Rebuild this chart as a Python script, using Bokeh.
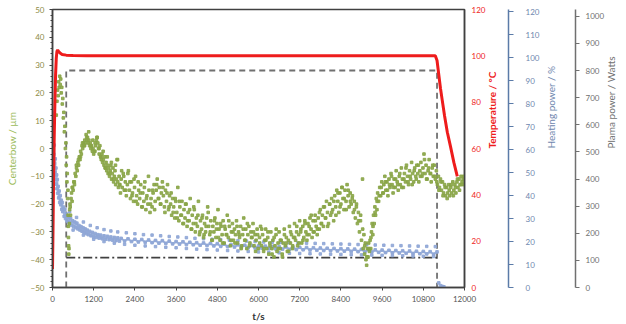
import math
from bokeh.plotting import figure
from bokeh.models import Range1d, LinearAxis, FixedTicker
from bokeh.embed import file_html
from bokeh.resources import INLINE

# ---------------- data ----------------
x_ticks = [0, 1200, 2400, 3600, 4800, 6000, 7200, 8400, 9600, 10800, 12000]
cb_ticks = [-50, -40, -30, -20, -10, 0, 10, 20, 30, 40, 50]
temp_ticks = [0, 20, 40, 60, 80, 100, 120]
heat_ticks = [0, 10, 20, 30, 40, 50, 60, 70, 80, 90, 100, 110, 120]
plasma_ticks = [0, 100, 200, 300, 400, 500, 600, 700, 800, 900, 1000]

# Centerbow (um), left axis
cb_t = [110, 130, 150, 165, 180, 195, 210, 225, 240, 255, 270, 285, 300, 315, 330, 345, 360, 375, 390, 400,
        410, 420, 430, 440, 450, 455, 460, 465, 470, 475, 480,
        490, 500, 510, 525, 540, 555, 570, 585, 600, 620, 640, 660, 680, 700, 720, 740, 760, 780, 800,
        820, 840, 860, 880, 900, 920, 940, 960, 980, 1000, 1020, 1040, 1060, 1080, 1100, 1120,
        1140, 1160, 1180, 1200, 1220, 1240, 1260, 1280, 1300, 1320, 1340, 1360, 1380, 1400, 1420, 1440,
        1460, 1480, 1500, 1520, 1540, 1560, 1580, 1600, 1620, 1640, 1660, 1680, 1700, 1720, 1740, 1760,
        1780, 1800, 1820, 1840, 1860, 1880, 1900, 1920, 1940, 1960, 1980, 2000, 2030, 2060, 2090, 2120,
        2150, 2180, 2210, 2240, 2270, 2300, 2330, 2360, 2390, 2420, 2450, 2480, 2510, 2540, 2570, 2600,
        2630, 2660, 2690, 2720, 2750, 2780, 2810, 2840, 2870, 2900,
        2930, 2960, 2990, 3020, 3050, 3080, 3110, 3140, 3170, 3200, 3230, 3260, 3290, 3320, 3350, 3380,
        3410, 3440, 3470, 3500, 3530, 3560, 3590, 3620, 3650, 3680, 3710, 3740, 3770, 3800, 3830, 3860,
        3890, 3920, 3950, 3980, 4010, 4040, 4070, 4100, 4130, 4160, 4190, 4220, 4250, 4280, 4310, 4340,
        4370, 4400, 4430, 4460, 4490, 4520, 4550, 4580, 4610, 4640, 4670, 4700, 4730, 4760, 4790, 4820,
        4850, 4880, 4910, 4940, 4970, 5000, 5030, 5060, 5090, 5120, 5150, 5180, 5210, 5240, 5270, 5300,
        5330, 5360, 5390, 5420, 5450, 5480, 5510, 5540, 5570, 5600, 5630, 5660, 5690, 5720, 5750, 5780,
        5810, 5840, 5870, 5900, 5930, 5960, 5990,
        6030, 6060, 6090, 6120, 6150, 6180, 6210, 6240, 6270, 6300, 6330, 6360, 6390, 6420, 6450, 6480,
        6510, 6540, 6570, 6600, 6630, 6660, 6690, 6720, 6750, 6780, 6810, 6840, 6870, 6900, 6930, 6960,
        6990, 7020, 7050, 7080, 7110, 7140, 7170, 7200,
        7230, 7260, 7290, 7320, 7350, 7380, 7410, 7440, 7470, 7500, 7530, 7560, 7590, 7620, 7650, 7680,
        7710, 7740, 7770, 7800, 7830, 7860, 7890, 7920, 7950, 7980, 8010, 8040, 8070, 8100, 8130, 8160,
        8190, 8220, 8250, 8280, 8310, 8340, 8370, 8400, 8430, 8460, 8490, 8520, 8550, 8580, 8610, 8640,
        8670, 8700,
        8730, 8760, 8790, 8820, 8850, 8880, 8910, 8940, 8970, 9000, 9030, 9050, 9070, 9090, 9110, 9130,
        9150, 9170, 9190, 9210, 9230, 9250, 9270, 9290, 9310, 9330, 9350, 9370, 9390, 9410, 9430, 9450,
        9470, 9500, 9530, 9560,
        9590, 9620, 9650, 9680, 9710, 9740, 9770, 9800, 9830, 9860, 9890, 9920, 9950, 9980, 10010, 10040,
        10070, 10100, 10130, 10160, 10190, 10220, 10250, 10280, 10310, 10340, 10370, 10400, 10430, 10460,
        10490, 10520, 10550, 10580, 10610, 10640, 10670, 10700, 10730, 10760, 10790, 10820, 10850, 10880,
        10910, 10940, 10970, 11000, 11030, 11060, 11090, 11120, 11150, 11180, 11210,
        11240, 11270, 11300, 11330, 11360, 11390, 11420, 11450, 11480, 11510, 11540, 11570, 11600, 11630,
        11660, 11690, 11720, 11750, 11780, 11810, 11840, 11870, 11900, 11930, 11960, 11990]
cb_v = [12, 17, 21, 19, 24, 22, 26, 23, 25, 20, 22, 16, 18, 11, 13, 6, 8, 0, 2, -6,
        -3, -12, -9, -18, -15, -24, -28, -32, -35, -38, -36,
        -27, -22, -20, -24, -18, -16, -19, -14, -15, -12, -13, -9, -10, -7, -8, -5, -6, -3, -4,
        -1, -2, 1, 0, 2, 1, 3, 2, 5, 3, 4, 2, 3, 1, 2, 0,
        1, -1, 0, -2, -1, 2, 1, 3, 4, 2, 0, -2, 1, -3, -4, -2,
        -5, -4, -6, -3, -7, -5, -8, -6, -9, -7, -10, -8, -6, -11, -9, -7,
        -12, -10, -8, -13, -11, -4, -12, -14, -10, -13, -16, -11, -14, -9, -15, -12,
        -17, -13, -8, -15, -18, -12, -16, -19, -14, -10, -17, -20, -15, -18, -13, -21,
        -16, -19, -12, -22, -17, -20, -15, -23, -18, -21,
        -16, -13, -19, -15, -11, -18, -14, -20, -16, -12, -17, -21, -15, -19, -13, -22,
        -17, -20, -24, -18, -21, -25, -19, -23, -14, -26, -21, -24, -19, -27, -22, -25,
        -20, -28, -23, -26, -18, -29, -24, -27, -22, -30, -25, -28, -19, -31, -26, -29,
        -24, -32, -27, -30, -25, -21, -28, -31, -26, -33, -28, -30, -25, -32, -27, -22,
        -29, -33, -28, -31, -26, -34, -29, -31, -24, -32, -28, -35, -30, -27, -33, -29,
        -31, -26, -34, -30, -32, -28, -35, -31, -25, -33, -29, -36, -31, -28, -34, -30,
        -32, -27, -35, -31, -33, -29, -36,
        -32, -28, -35, -31, -37, -33, -29, -36, -32, -38, -34, -30, -36, -33, -39, -35,
        -31, -37, -34, -30, -36, -33, -38, -34, -29, -35, -32, -37, -33, -28, -34, -31,
        -36, -32, -27, -33, -30, -35, -31, -26,
        -30, -34, -28, -32, -26, -30, -33, -27, -31, -25, -29, -32, -26, -30, -24, -28,
        -31, -25, -29, -22, -27, -24, -28, -21, -25, -19, -23, -27, -20, -24, -18, -22,
        -26, -17, -21, -15, -19, -23, -16, -20, -14, -18, -22, -15, -19, -13, -17, -21,
        -16, -20,
        -18, -23, -19, -25, -21, -27, -23, -30, -26, -33, -11, -36, -31, -38, -34, -40,
        -42, -36, -39, -34, -37, -33, -36, -30, -27, -31, -24, -27, -21, -24, -18, -22,
        -16, -19, -14, -17,
        -12, -16, -13, -10, -15, -12, -17, -11, -14, -9, -13, -16, -11, -14, -8, -12,
        -15, -10, -13, -7, -11, -14, -9, -12, -6, -10, -13, -8, -11, -5,
        -9, -12, -7, -10, -6, -9, -12, -8, -5, -10, -7, -2, -9, -6,
        -11, -8, -4, -9, -12, -7, -10, -6, -11, -8, -13,
        -10, -14, -11, -15, -12, -16, -13, -17, -14, -16, -13, -17, -14, -16,
        -12, -15, -13, -16, -12, -14, -11, -13, -10, -12, -11, -13]

# Centerbow, second set of readings (between the first ones)
cb2_t = [515, 575, 635, 695, 755, 815, 875, 935, 995, 1055, 1115, 1175, 1235, 1295, 1355, 1415,
         1475, 1535, 1595, 1655, 1715, 1775, 1835, 1895, 1955, 2015, 2075, 2135, 2195, 2255, 2315, 2375,
         2435, 2495, 2555, 2615, 2675, 2735, 2795, 2855, 2915, 2975, 3035, 3095, 3155, 3215, 3275, 3335,
         3395, 3455, 3515, 3575, 3635, 3695, 3755, 3815, 3875, 3935, 3995, 4055, 4115, 4175, 4235, 4295,
         4355, 4415, 4475, 4535, 4595, 4655, 4715, 4775, 4835, 4895, 4955, 5015, 5075, 5135, 5195, 5255,
         5315, 5375, 5435, 5495, 5555, 5615, 5675, 5735, 5795, 5855, 5915, 5975, 6035, 6095, 6155, 6215,
         6275, 6335, 6395, 6455, 6515, 6575, 6635, 6695, 6755, 6815, 6875, 6935, 6995, 7055, 7115, 7175,
         7235, 7295, 7355, 7415, 7475, 7535, 7595, 7655, 7715, 7775, 7835, 7895, 7955, 8015, 8075, 8135,
         8195, 8255, 8315, 8375, 8435, 8495, 8555, 8615, 8675, 8735, 8795, 8855, 8915, 8975, 9035, 9095,
         9155, 9215, 9275, 9335, 9395, 9455, 9515, 9575, 9635, 9695, 9755, 9815, 9875, 9935, 9995, 10055,
         10115, 10175, 10235, 10295, 10355, 10415, 10475, 10535, 10595, 10655, 10715, 10775, 10835, 10895,
         10955, 11015,
         11075, 11135, 11195, 11255, 11315, 11375, 11435, 11495, 11555, 11615, 11675, 11735, 11795, 11855,
         11915, 11975]
cb2_v = [-21, -14, -12, -6, -4, -3, 2, 1, 4, 6, 1, 3, -1, 4, 0, -3,
         -1, -7, -3, -9, -5, -11, -6, -4, -13, -8, -10, -15, -9, -12, -17, -11,
         -19, -12, -16, -21, -14, -18, -10, -20, -15, -22, -13, -18, -20, -14, -23, -16,
         -21, -16, -23, -18, -25, -19, -24, -27, -20, -26, -22, -29, -21, -27, -24, -30,
         -25, -31, -28, -23, -30, -33, -26, -29, -32, -27, -34, -28, -31, -26, -33, -30,
         -34, -28, -31, -36, -29, -33, -27, -35, -32, -30, -37, -31, -34, -29, -36, -33,
         -30, -35, -38, -32, -29, -36, -33, -39, -31, -34, -37, -30, -35, -32, -28, -34,
         -29, -33, -27, -31, -28, -24, -30, -26, -29, -23, -27, -21, -25, -28, -20, -23,
         -19, -24, -16, -21, -14, -18, -22, -15, -19, -17, -22, -20, -26, -24, -29, -35,
         -39, -36, -32, -28, -23, -19, -17, -14, -16, -12, -15, -13, -10, -14, -11, -13,
         -9, -14, -11, -7, -12, -10, -13, -8, -11, -6, -10, -9, -4, -11,
         -7, -9,
         -6, -10, -12, -15, -12, -17, -14, -18, -15, -13, -17, -14, -11, -15,
         -13, -10]

# Heating power (%), main band
hp_t = [0, 10, 20, 30, 40, 50, 60, 70, 80, 90, 100, 110, 120, 130, 140, 150, 165, 180, 195, 210,
        225, 240, 255, 270, 285, 300, 320, 340, 360, 380, 400, 420, 440, 460, 480, 500, 530, 560, 590,
        620, 650, 680, 710, 740, 770, 800, 830, 860, 890, 920, 950, 980, 1010, 1040, 1080, 1120, 1160,
        1200, 1240, 1280, 1320, 1360, 1400, 1450, 1500, 1550, 1600, 1650, 1700, 1750, 1800, 1850, 1900,
        1950, 2000, 2100, 2200, 2300, 2400, 2500, 2600, 2700, 2800, 2900, 3000, 3100, 3200, 3300, 3400,
        3500, 3600, 3700, 3800, 3900, 4000, 4100, 4200, 4300, 4400, 4500, 4600, 4700, 4800, 4900, 5000,
        5100, 5200, 5300, 5400, 5500, 5600, 5700, 5800, 5900, 6000, 6100, 6200, 6300, 6400, 6500, 6600,
        6700, 6800, 6900, 7000, 7100, 7200, 7300, 7400, 7500, 7600, 7700, 7800, 7900, 8000, 8100, 8200,
        8300, 8400, 8500, 8600, 8700, 8800, 8900, 9000, 9100, 9200, 9300, 9400, 9500, 9600, 9700, 9800,
        9900, 10000, 10100, 10200, 10300, 10400, 10500, 10600, 10700, 10800, 10900, 11000, 11100, 11200,
        11250, 11300, 11350, 11400]
hp_v = [76, 70, 64, 72, 58, 62, 54, 50, 56, 47, 52, 45, 49, 43, 47, 41, 44, 39, 42, 37,
        40, 36, 38, 34, 37, 33, 35, 31, 34, 30, 32, 29, 31, 28.5, 30.5, 28, 30, 27, 29,
        26.5, 28.5, 26, 28, 25.5, 27, 25, 26.5, 24.5, 26, 24, 25.5, 23.5, 25, 23, 24.5, 22.5, 24,
        22, 23.5, 21.8, 23, 21.5, 22.8, 21.2, 22.5, 21, 22.3, 20.8, 22, 20.6, 21.8, 20.4, 21.6,
        20.2, 21.4, 20.2, 21.2, 20.0, 21.0, 19.8, 20.9, 19.7, 20.7, 19.5, 20.5, 19.3, 20.4, 19.2, 20.2,
        19.0, 20.0, 18.9, 19.9, 18.7, 19.7, 18.6, 19.5, 18.4, 19.4, 18.3, 19.2, 18.1, 19.1, 17.9, 18.9,
        17.8, 18.7, 17.6, 18.6, 17.5, 18.4, 17.3, 18.3, 17.2, 18.1, 17.1, 18.0, 16.9, 17.9, 16.8, 17.8,
        16.7, 17.7, 16.6, 17.6, 16.5, 17.5, 16.4, 17.4, 16.3, 17.3, 16.2, 17.2, 16.1, 17.1, 16.0, 17.0,
        15.9, 16.9, 15.8, 16.8, 15.7, 16.7, 15.6, 16.6, 15.5, 16.5, 15.4, 16.4, 15.3, 16.3, 15.2, 16.2,
        15.1, 16.1, 15.0, 16.0, 14.9, 15.9, 14.8, 15.8, 14.7, 15.7, 14.6, 15.6, 14.5, 15.5,
        2, 0.8, 0.5, 0.3]
# Heating power, scattered points above the band
hp_up_t = [500, 700, 900, 1100, 1300, 1500, 1700, 1900, 2150, 2400, 2650, 2900, 3150, 3400, 3650, 3900,
           4150, 4400, 4650, 4900, 5150, 5400, 5650, 5900, 6150, 6400, 6650, 6900, 7150, 7400, 7650,
           7900, 8150, 8400, 8650, 8900, 9150, 9400, 9650, 9900, 10150, 10400, 10650, 10900, 11150]
hp_up_v = [33, 30.5, 28.5, 27, 26, 25.2, 24.6, 24.2, 23.8, 23.4, 23, 22.8, 22.5, 22.2, 22, 21.7,
           21.4, 21.2, 21, 20.8, 20.6, 20.4, 20.2, 20, 19.8, 19.7, 19.6, 19.5, 19.4, 19.3, 19.2,
           19.1, 19, 18.9, 18.8, 18.7, 18.6, 18.5, 18.4, 18.3, 18.2, 18.1, 18, 17.9, 17.8]
# Heating power, scattered points below the band
hp_lo_t = [600, 900, 1200, 1500, 1800, 2100, 2400, 2700, 3000, 3300, 3600, 3900, 4200, 4500, 4800,
           5100, 5400, 5700, 6000, 6300, 6600, 6900, 7200, 7500, 7800, 8100, 8400, 8700, 9000, 9300,
           9600, 9900, 10200, 10500, 10800, 11100]
hp_lo_v = [25, 22.8, 21, 20, 19.3, 18.8, 18.4, 18.1, 17.8, 17.5, 17.3, 17, 16.7, 16.5, 16.3,
           16.1, 15.9, 15.7, 15.5, 15.3, 15.1, 14.9, 14.8, 14.7, 14.6, 14.5, 14.4, 14.3, 14.2, 14.1,
           14, 13.9, 13.8, 13.7, 13.6, 13.5]

# Temperature (degC), right axis
temp_t = [0, 15, 30, 50, 70, 90, 110, 130, 150, 180, 220, 280, 400, 600, 1000, 2000, 3000, 4000, 5000,
          6000, 7000, 8000, 9000, 10000, 11000, 11150, 11200, 11250, 11300, 11350, 11420, 11500, 11590,
          11690, 11790]
temp_v = [8, 25, 45, 65, 80, 92, 99, 102, 102.5, 101.8, 101.2, 100.6, 100.3, 100.1, 100, 100, 100, 100, 100,
          100, 100, 100, 100, 100, 100, 100, 98, 92, 86, 81, 74, 67, 61,
          54, 48]

# Plasma power (W)
plasma_t = [400, 400, 11200, 11200]
plasma_v = [0, 800, 800, 0]
# second power trace (dash-dot)
bias_t = [400, 11200]
bias_v = [110, 110]

# ---------------- styling ----------------
FONT = "Lato"
GREEN = "#89a547"
GREEN_LBL = "#8c8a45"
GREEN_TITLE = "#9bbb59"
BLUE = "#8fa6d6"
BLUE_AX = "#5b7ba8"
BLUE_LBL = "#6f87ae"
RED = "#ee1c1c"
GRAY = "#707070"
DARK = "#404040"

p = figure(width=626, height=324, output_backend="svg", toolbar_location=None,
           x_range=Range1d(0, 12000), y_range=Range1d(-50, 50),
           min_border_left=52, min_border_right=162, min_border_top=9, min_border_bottom=36)
p.extra_y_ranges = {"temp": Range1d(0, 120), "heat": Range1d(0, 121), "plasma": Range1d(0, 1025)}
p.xgrid.visible = False
p.ygrid.visible = False
p.outline_line_color = DARK
p.outline_line_width = 1.5
p.background_fill_color = "white"
p.border_fill_color = "white"

# x axis
xa = p.xaxis[0]
xa.ticker = FixedTicker(ticks=x_ticks)
xa.axis_label = "t/s"
xa.axis_label_text_font = FONT
xa.axis_label_text_font_style = "bold"
xa.axis_label_text_font_size = "10px"
xa.axis_label_text_color = "#333333"
xa.axis_label_standoff = 5
xa.major_label_text_font = FONT
xa.major_label_text_font_size = "8px"
xa.major_label_text_color = "#555555"
xa.axis_line_color = DARK
xa.axis_line_width = 1.5
xa.major_tick_line_color = DARK
xa.major_tick_out = 3
xa.major_tick_in = 0
xa.minor_tick_line_color = None
xa.major_label_standoff = 5

# left axis
ya = p.yaxis[0]
ya.ticker = FixedTicker(ticks=cb_ticks, minor_ticks=list(range(-50, 51, 2)))
ya.axis_label = "Centerbow / µm"
ya.axis_label_text_font = FONT
ya.axis_label_text_font_style = "normal"
ya.axis_label_text_font_size = "10px"
ya.axis_label_text_color = GREEN_TITLE
ya.axis_label_standoff = 10
ya.major_label_text_font = FONT
ya.major_label_text_font_size = "8px"
ya.major_label_text_color = GREEN_LBL
ya.axis_line_color = DARK
ya.axis_line_width = 1.5
ya.major_tick_line_color = DARK
ya.major_tick_out = 3
ya.major_tick_in = 0
ya.minor_tick_line_color = DARK
ya.minor_tick_out = 2
ya.minor_tick_in = 0
ya.major_label_standoff = 5


def set_orientation(ax):
    try:
        ax.axis_label_orientation = math.pi / 2
    except Exception:
        pass


def spacer(rng, w):
    # an empty axis with one invisible tick: it only reserves w pixels
    return LinearAxis(y_range_name=rng, ticker=FixedTicker(ticks=[60], minor_ticks=[]),
                      axis_line_color=None, major_tick_out=w, major_tick_in=0,
                      minor_tick_out=0, minor_tick_in=0,
                      major_tick_line_color=None, minor_tick_line_color=None,
                      major_label_overrides={60: ""}, major_label_text_color=None,
                      major_label_text_font_size="1px", major_label_standoff=0)


# temperature axis
ta = LinearAxis(y_range_name="temp", ticker=FixedTicker(ticks=temp_ticks))
ta.axis_label = "Temperature / °C"
ta.axis_label_text_font = FONT
ta.axis_label_text_font_style = "bold"
ta.axis_label_text_font_size = "10px"
ta.axis_label_text_color = RED
ta.axis_label_standoff = 4
ta.major_label_text_font = FONT
ta.major_label_text_font_size = "8px"
ta.major_label_text_color = RED
ta.axis_line_color = DARK
ta.axis_line_width = 1.5
ta.major_tick_out = 0
ta.major_tick_in = 0
ta.minor_tick_line_color = None
ta.major_label_standoff = 7
set_orientation(ta)

# heating axis
ha = LinearAxis(y_range_name="heat", ticker=FixedTicker(ticks=heat_ticks))
ha.axis_label = "Heating power / %"
ha.axis_label_text_font = FONT
ha.axis_label_text_font_style = "normal"
ha.axis_label_text_font_size = "10px"
ha.axis_label_text_color = BLUE_LBL
ha.axis_label_standoff = 9
ha.major_label_text_font = FONT
ha.major_label_text_font_size = "8px"
ha.major_label_text_color = BLUE_LBL
ha.axis_line_color = BLUE_AX
ha.axis_line_width = 1.5
ha.major_tick_line_color = BLUE_AX
ha.major_tick_out = 5
ha.major_tick_in = 0
ha.minor_tick_line_color = None
ha.major_label_standoff = 12
set_orientation(ha)

# plasma axis
pa = LinearAxis(y_range_name="plasma", ticker=FixedTicker(ticks=plasma_ticks))
pa.axis_label = "Plama power / Watts"
pa.axis_label_text_font = FONT
pa.axis_label_text_font_style = "normal"
pa.axis_label_text_font_size = "10px"
pa.axis_label_text_color = GRAY
pa.axis_label_standoff = 4
pa.major_label_text_font = FONT
pa.major_label_text_font_size = "8px"
pa.major_label_text_color = GRAY
pa.axis_line_color = GRAY
pa.axis_line_width = 1.5
pa.major_tick_line_color = GRAY
pa.major_tick_out = 4
pa.major_tick_in = 0
pa.minor_tick_line_color = None
pa.major_label_standoff = 6
set_orientation(pa)

p.add_layout(ta, "right")
p.add_layout(spacer("temp", 1), "right")
p.add_layout(ha, "right")
p.add_layout(spacer("temp", 9), "right")
p.add_layout(pa, "right")

# ---------------- glyphs ----------------
p.line(plasma_t, plasma_v, y_range_name="plasma", line_color=GRAY, line_width=1.8, line_dash="6 4")
p.line(bias_t, bias_v, y_range_name="plasma", line_color=DARK, line_width=1.6, line_dash="9 3 2 3")
p.scatter(hp_up_t, hp_up_v, y_range_name="heat", marker="square", size=2.5, color=BLUE, alpha=0.9)
p.scatter(hp_lo_t, hp_lo_v, y_range_name="heat", marker="square", size=2.5, color=BLUE, alpha=0.9)
p.scatter(hp_t, hp_v, y_range_name="heat", marker="square", size=2.6, color=BLUE, alpha=0.9)
p.line(hp_t[:-4], hp_v[:-4], y_range_name="heat", line_color=BLUE, line_width=2, alpha=0.8)
p.scatter(cb_t, cb_v, marker="square", size=2.6, color=GREEN, alpha=0.9)
p.scatter(cb2_t, cb2_v, marker="square", size=2.6, color=GREEN, alpha=0.9)
p.line(temp_t, temp_v, y_range_name="temp", line_color=RED, line_width=3)

open("out.html", "w").write(file_html(p, INLINE))
